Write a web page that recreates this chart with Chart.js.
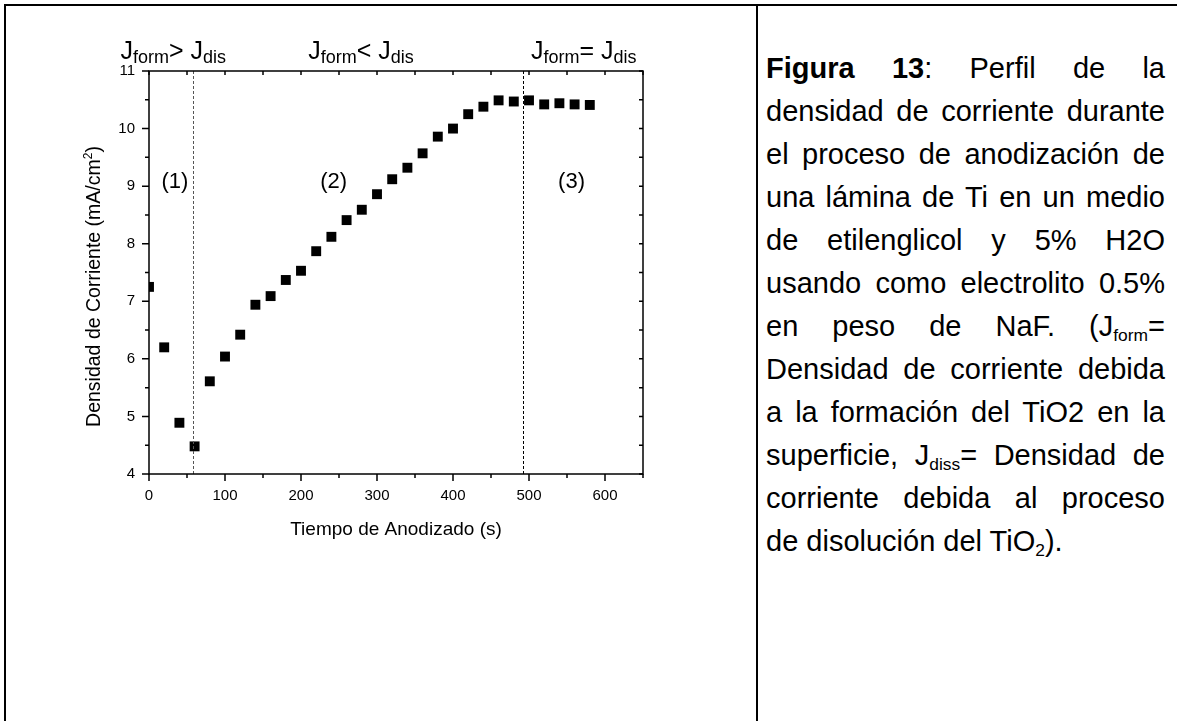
<!DOCTYPE html>
<html>
<head>
<meta charset="utf-8">
<script src="https://cdn.jsdelivr.net/npm/chart.js@4.4.0/dist/chart.umd.min.js"></script>
<style>
body { margin:0; background:#fff; width:1177px; height:721px; overflow:hidden; position:relative; font-family:"Liberation Sans", Arial, sans-serif; color:#000; }
.rule { position:absolute; background:#000; }
#chartBox { position:absolute; left:0; top:0; width:756px; height:721px; }
#caption { position:absolute; left:766px; top:47px; width:399px; font-size:29px; line-height:43px; }
#caption div { text-align:justify; text-align-last:justify; height:43px; }
#caption div.last { text-align-last:left; }
#caption sub { font-size:0.6em; vertical-align:baseline; position:relative; top:5px; line-height:0; }
</style>
</head>
<body>
<div class="rule" style="left:4px;top:4px;width:1173px;height:2px"></div>
<div class="rule" style="left:4px;top:4px;width:2px;height:717px"></div>
<div class="rule" style="left:756px;top:4px;width:2px;height:717px"></div>
<div id="chartBox"><canvas id="cv" width="756" height="721"></canvas></div>
<div id="caption">
<div><b>Figura 13</b>: Perfil de la</div>
<div>densidad de corriente durante</div>
<div>el proceso de anodización de</div>
<div>una lámina de Ti en un medio</div>
<div>de etilenglicol y 5% H2O</div>
<div>usando como electrolito 0.5%</div>
<div>en peso de NaF. (J<sub>form</sub>=</div>
<div>Densidad de corriente debida</div>
<div>a la formación del TiO2 en la</div>
<div>superficie, J<sub>diss</sub>= Densidad de</div>
<div>corriente debida al proceso</div>
<div class="last">de disolución del TiO<sub>2</sub>).</div>
</div>
<script>
// anodizing time (s) and current density (mA/cm2)
const timeS = [0, 20, 40, 60, 80, 100, 120, 140, 160, 180, 200, 220, 240, 260, 280,
    300, 320, 340, 360, 380, 400, 420, 440, 460, 480, 500, 520, 540, 560, 580];
const density = [7.25, 6.20, 4.89, 4.48, 5.61, 6.04, 6.42, 6.94, 7.09, 7.37, 7.53, 7.87, 8.12, 8.41, 8.59,
    8.86, 9.12, 9.32, 9.57, 9.86, 10.00, 10.25, 10.38, 10.49, 10.47, 10.49, 10.42, 10.44, 10.42, 10.41];

// regime boundaries and labels
const boundaries = [58, 492];
const regionLabels = ['(1)', '(2)', '(3)'];
const regionX = [34, 243, 556];
const regionY = 9.07;
const headerX = [32, 279, 572];
const headerOps = ['> ', '< ', '= '];

const FONT = '"Liberation Sans", Arial, sans-serif';

// draws text made of [text, size, dy] pieces centred on x
function drawParts(ctx, parts, x, y) {
    let total = 0;
    parts.forEach(p => { ctx.font = p[1] + 'px ' + FONT; total += ctx.measureText(p[0]).width; });
    let cx = x - total / 2;
    parts.forEach(p => {
        ctx.font = p[1] + 'px ' + FONT;
        ctx.fillText(p[0], cx, y + p[2]);
        cx += ctx.measureText(p[0]).width;
    });
}

const framePlugin = {
    id: 'frame',
    afterDatasetsDraw(chart) {
        const ctx = chart.ctx;
        const a = chart.chartArea;
        const x = chart.scales.x;
        const y = chart.scales.y;
        ctx.save();
        ctx.strokeStyle = '#000';
        ctx.fillStyle = '#000';

        // dotted boundaries
        ctx.lineWidth = 1;
        ctx.setLineDash([3, 2]);
        boundaries.forEach((b, i) => {
            const px = Math.round(x.getPixelForValue(b)) + 0.5;
            ctx.strokeStyle = i === 0 ? '#555' : '#000';
            ctx.beginPath();
            ctx.moveTo(px, a.top);
            ctx.lineTo(px, a.bottom);
            ctx.stroke();
        });
        ctx.setLineDash([]);
        ctx.strokeStyle = '#000';

        // box and ticks
        ctx.lineWidth = 1.5;
        ctx.strokeRect(a.left, a.top, a.right - a.left, a.bottom - a.top);
        ctx.beginPath();
        x.ticks.forEach(t => {
            const px = x.getPixelForValue(t.value);
            const len = t.value % 100 === 0 ? 7 : 4;
            ctx.moveTo(px, a.bottom); ctx.lineTo(px, a.bottom + len);
            ctx.moveTo(px, a.top); ctx.lineTo(px, a.top + 4);
        });
        y.ticks.forEach(t => {
            const py = y.getPixelForValue(t.value);
            const len = Number.isInteger(t.value) ? 7 : 4;
            ctx.moveTo(a.left, py); ctx.lineTo(a.left - len, py);
            ctx.moveTo(a.right, py); ctx.lineTo(a.right - 4, py);
        });
        ctx.stroke();

        // region numbers
        ctx.textBaseline = 'middle';
        ctx.textAlign = 'center';
        ctx.font = '22px ' + FONT;
        regionLabels.forEach((l, i) => {
            ctx.fillText(l, x.getPixelForValue(regionX[i]), y.getPixelForValue(regionY));
        });

        // headers J_form ? J_dis
        ctx.textAlign = 'left';
        ctx.textBaseline = 'alphabetic';
        headerX.forEach((hx, i) => {
            drawParts(ctx, [['J', 25, 0], ['form', 18, 4], [headerOps[i], 25, 0], ['J', 25, 0], ['dis', 18, 4]],
                x.getPixelForValue(hx), a.top - 12);
        });

        // axis titles
        drawParts(ctx, [['Tiempo de Anodizado (s)', 19, 0]], (a.left + a.right) / 2, a.bottom + 61);
        ctx.translate(100, (a.top + a.bottom) / 2 + 14);
        ctx.rotate(-Math.PI / 2);
        drawParts(ctx, [['Densidad de Corriente (mA/cm', 19.5, 0], ['2', 12, -8], [')', 19.5, 0]], 0, 0);
        ctx.restore();
    }
};

const points = timeS.map((t, i) => ({ x: t, y: density[i] }));

new Chart(document.getElementById('cv'), {
    type: 'scatter',
    data: {
        datasets: [{
            data: points,
            pointStyle: 'rect',
            pointRadius: 7,
            pointHoverRadius: 7,
            backgroundColor: '#000',
            borderColor: '#000',
            borderWidth: 0,
            clip: 0
        }]
    },
    options: {
        responsive: false,
        animation: false,
        events: [],
        layout: { padding: { left: 0, top: 71, right: 113, bottom: 0 } },
        plugins: { legend: { display: false }, tooltip: { enabled: false } },
        scales: {
            x: {
                type: 'linear', min: 0, max: 650,
                grid: { display: false, drawTicks: false },
                border: { display: false },
                ticks: {
                    stepSize: 50, autoSkip: false, maxRotation: 0, padding: 13, color: '#000',
                    font: { size: 15, family: FONT },
                    callback: v => (v % 100 === 0 ? v : '')
                },
                afterFit: s => { s.height = 247; }
            },
            y: {
                type: 'linear', min: 4, max: 11,
                grid: { display: false, drawTicks: false },
                border: { display: false },
                ticks: {
                    stepSize: 0.5, autoSkip: false, padding: 14, color: '#000',
                    font: { size: 15, family: FONT },
                    callback: v => (Number.isInteger(v) ? v : '')
                },
                afterFit: s => { s.width = 149; }
            }
        }
    },
    plugins: [framePlugin]
});
</script>
</body>
</html>
